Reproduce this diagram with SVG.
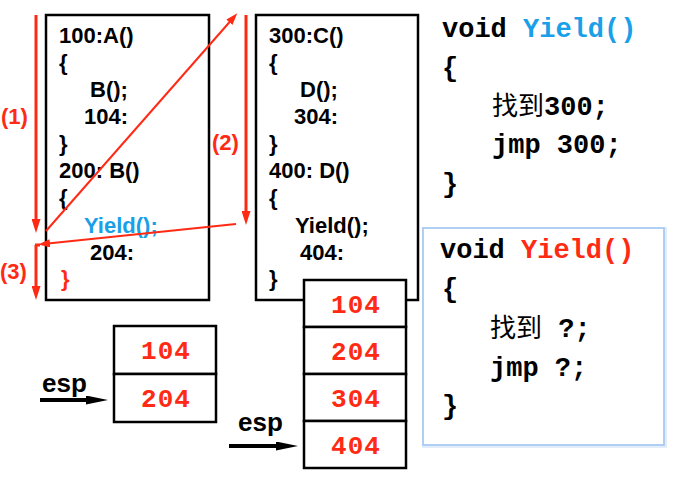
<svg xmlns="http://www.w3.org/2000/svg" width="680" height="481" viewBox="0 0 680 481">
<style>
.box{fill:#fff;stroke:#000;stroke-width:2.5}
.code{font-family:"Liberation Sans",Arial,sans-serif;font-weight:bold;font-size:22px;fill:#000}
.lbl{font-family:"Liberation Sans",Arial,sans-serif;font-weight:bold;font-size:22px;fill:#ff2a14}
.mono{font-family:"Liberation Mono","Courier New","Noto Sans CJK SC",monospace;font-weight:bold;font-size:27px;fill:#000}
.cjk{font-family:"Noto Sans CJK SC",sans-serif;font-weight:normal;font-size:26px}
.cell{fill:#fff;stroke:#000;stroke-width:2.5}
.num{font-family:"Liberation Mono","Courier New",monospace;font-weight:bold;font-size:26px;fill:#ff2a14;text-anchor:middle;letter-spacing:1px}
.esp{font-family:"Liberation Sans",Arial,sans-serif;font-weight:bold;font-size:26px;fill:#000}
.red{fill:#ff2a14}
.blue{fill:#1aa0e8}
.rthick{stroke:#ff2a14;stroke-width:3;fill:none}
.rthin{stroke:#ff2a14;stroke-width:2;fill:none}
.bthick{stroke:#000;stroke-width:4;fill:none}
</style>
<defs>
<marker id="ah" markerUnits="userSpaceOnUse" markerWidth="14" markerHeight="9" refX="8" refY="4.5" orient="auto">
<path d="M0,0 L14,4.5 L0,9 z" fill="#ff2a14"/>
</marker>
<marker id="ahs" markerUnits="userSpaceOnUse" markerWidth="12" markerHeight="8" refX="7" refY="4" orient="auto">
<path d="M0,0 L12,4 L0,8 z" fill="#ff2a14"/>
</marker>
<marker id="ahb" markerUnits="userSpaceOnUse" markerWidth="22" markerHeight="9" refX="12" refY="4.5" orient="auto">
<path d="M0,0 L22,4.5 L0,9 z" fill="#000"/>
</marker>
</defs>
<rect width="680" height="481" fill="#fff"/>

<g id="funcAB">
<rect class="box" x="46" y="15" width="163" height="285"/>
<text class="code" x="59" y="43">100:A()</text>
<text class="code" x="59" y="70">{</text>
<text class="code" x="90" y="97">B();</text>
<text class="code" x="84" y="124">104:</text>
<text class="code" x="59" y="151">}</text>
<text class="code" x="59" y="178">200: B()</text>
<text class="code" x="59" y="205">{</text>
<text class="code blue" x="84" y="233">Yield();</text>
<text class="code" x="90" y="260">204:</text>
<text class="code red" x="61" y="286">}</text>
</g>

<g id="funcCD">
<rect class="box" x="256" y="15" width="162" height="285"/>
<text class="code" x="269" y="43">300:C()</text>
<text class="code" x="269" y="70">{</text>
<text class="code" x="300" y="97">D();</text>
<text class="code" x="294" y="124">304:</text>
<text class="code" x="269" y="151">}</text>
<text class="code" x="269" y="178">400: D()</text>
<text class="code" x="269" y="205">{</text>
<text class="code" x="295" y="233">Yield();</text>
<text class="code" x="300" y="260">404:</text>
<text class="code" x="269" y="286">}</text>
</g>

<g id="yield1">
<text class="mono" x="442" y="37">void <tspan class="blue">Yield()</tspan></text>
<text class="mono" x="442" y="76">{</text>
<text class="mono" x="492" y="115"><tspan class="cjk">找到</tspan>300;</text>
<text class="mono" x="492" y="153">jmp 300;</text>
<text class="mono" x="442" y="192">}</text>
</g>

<g id="yield2">
<rect x="424" y="229" width="241" height="217" fill="none" stroke="#e3edf9" stroke-width="4"/>
<rect x="423" y="228" width="241" height="217" fill="#fff" stroke="#a9caf2" stroke-width="1.8"/>
<text class="mono" x="440" y="258">void <tspan class="red">Yield()</tspan></text>
<text class="mono" x="442" y="297">{</text>
<text class="mono" x="490" y="337"><tspan class="cjk">找到</tspan> ?;</text>
<text class="mono" x="490" y="376">jmp ?;</text>
<text class="mono" x="442" y="414">}</text>
</g>

<g id="stack1">
<rect class="cell" x="114" y="326" width="102" height="48"/>
<rect class="cell" x="114" y="374" width="102" height="48"/>
<text class="num" x="166" y="359">104</text>
<text class="num" x="166" y="407">204</text>
</g>

<g id="stack2">
<rect class="cell" x="304" y="280" width="102" height="47"/>
<rect class="cell" x="304" y="327" width="102" height="47"/>
<rect class="cell" x="304" y="374" width="102" height="47"/>
<rect class="cell" x="304" y="421" width="102" height="47"/>
<text class="num" x="356" y="313">104</text>
<text class="num" x="356" y="360">204</text>
<text class="num" x="356" y="407">304</text>
<text class="num" x="356" y="454">404</text>
</g>

<g id="esp1">
<text class="esp" x="42" y="392">esp</text>
</g>
<g id="esp2">
<text class="esp" x="238" y="431">esp</text>
</g>

<g id="labels">
<text class="lbl" x="1" y="124">(1)</text>
<text class="lbl" x="212" y="150">(2)</text>
<text class="lbl" x="0" y="279">(3)</text>
</g>

<g id="connectors">
<line class="rthick" x1="36" y1="15" x2="36" y2="227" marker-end="url(#ah)"/>
<line class="rthin" x1="46" y1="231" x2="234" y2="17" marker-end="url(#ahs)"/>
<line class="rthick" x1="246" y1="15" x2="246" y2="219" marker-end="url(#ah)"/>
<line class="rthin" x1="236" y1="224" x2="43" y2="244" marker-end="url(#ahs)"/>
<line class="rthick" x1="36" y1="245" x2="36" y2="294" marker-end="url(#ah)"/>
<line class="rthick" x1="35" y1="245" x2="40" y2="245"/>
<line class="bthick" x1="40" y1="400" x2="98" y2="400" marker-end="url(#ahb)"/>
<line class="bthick" x1="229" y1="446" x2="288" y2="446" marker-end="url(#ahb)"/>
</g>
</svg>
